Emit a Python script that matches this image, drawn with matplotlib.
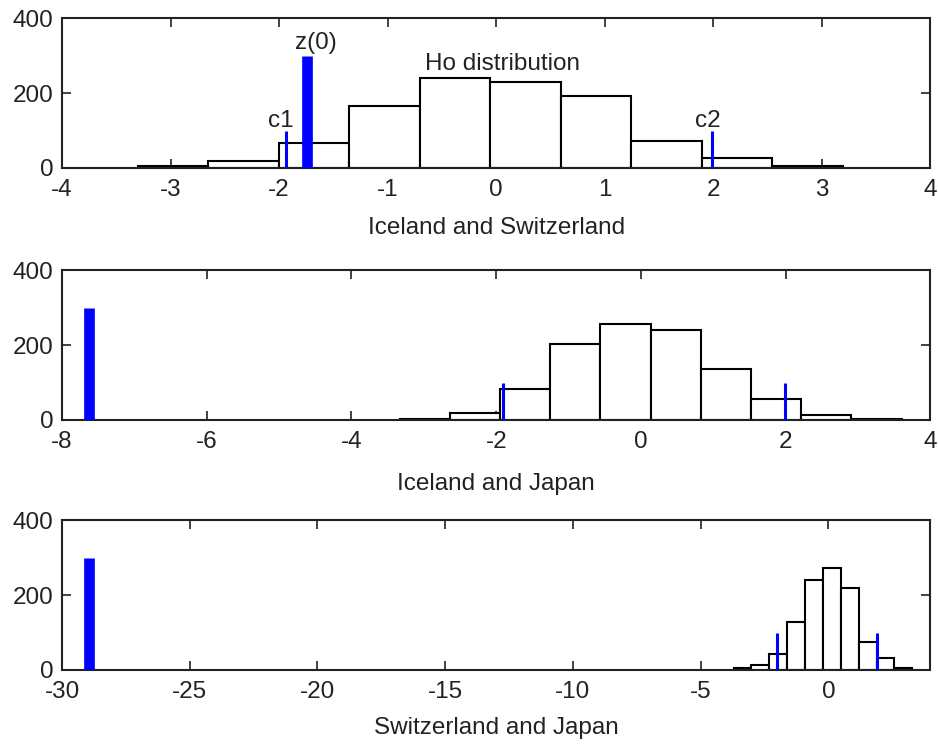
import numpy as np
import matplotlib
matplotlib.use('Agg')
import matplotlib.pyplot as plt

plt.rcParams['font.family'] = ['Liberation Sans', 'DejaVu Sans']
plt.rcParams['font.size'] = 17.5
plt.rcParams['axes.unicode_minus'] = False

# bootstrap distribution under Ho, 10 bins per pair
pairs = ['Iceland and Switzerland', 'Iceland and Japan', 'Switzerland and Japan']
bin_ranges = [(-3.30, 3.19), (-3.334, 3.602), (-3.71, 3.29)]
counts_is = [4, 20, 68, 165, 240, 230, 191, 72, 26, 4]
counts_ij = [3, 19, 83, 204, 257, 241, 135, 56, 14, 3]
counts_sj = [4, 12, 43, 128, 240, 273, 219, 75, 33, 4]
counts = [counts_is, counts_ij, counts_sj]

# observed statistic and critical values
z0 = [-1.745, -7.63, -28.95]
c1 = [-1.94, -1.90, -2.01]
c2 = [1.99, 1.99, 1.92]
z0_height = 300
c_height = 100

xlims = [(-4, 4), (-8, 4), (-30, 4)]
xticks = [list(range(-4, 5)), list(range(-8, 5, 2)), list(range(-30, 1, 5))]
yticks = [0, 200, 400]

fig = plt.figure(figsize=(9.38, 7.44), dpi=100)
ax_bottoms = [0.7742, 0.4355, 0.0995]
label_pads = [11.5, 14, 10]

for i in range(3):
    ax = fig.add_axes([0.0661, ax_bottoms[i], 0.9259, 0.2013])
    edges = np.linspace(bin_ranges[i][0], bin_ranges[i][1], len(counts[i]) + 1)
    ax.bar(edges[:-1], counts[i], width=np.diff(edges), align='edge',
           facecolor='white', edgecolor='black', linewidth=1.5, zorder=2)

    ax.plot([z0[i], z0[i]], [0, z0_height], color='#0000ff', linewidth=7.7,
            solid_capstyle='butt', zorder=3)
    ax.plot([c1[i], c1[i]], [0, c_height], color='#0000ff', linewidth=2.2,
            solid_capstyle='butt', zorder=3)
    ax.plot([c2[i], c2[i]], [0, c_height], color='#0000ff', linewidth=2.2,
            solid_capstyle='butt', zorder=3)

    ax.set_xlim(xlims[i])
    ax.set_ylim(0, 400)
    ax.set_xticks(xticks[i])
    ax.set_yticks(yticks)
    ax.tick_params(axis='x', pad=8)
    ax.tick_params(axis='y', pad=6)
    ax.tick_params(direction='in', top=True, right=True, length=6.5,
                   width=1.2, colors='#222222')
    for sp in ax.spines.values():
        sp.set_linewidth(1.5)
        sp.set_color('#222222')
    ax.set_xlabel(pairs[i], labelpad=label_pads[i], color='#222222')

    if i == 0:
        ax.text(z0[i] - 0.11, 333, 'z(0)', va='center', ha='left', color='#222222')
        ax.text(c1[i] - 0.16, 126, 'c1', va='center', ha='left', color='#222222')
        ax.text(c2[i] - 0.16, 126, 'c2', va='center', ha='left', color='#222222')
        ax.text(-0.657, 279, 'Ho distribution', va='center', ha='left', color='#222222')

fig.savefig('out.png', dpi=100)
